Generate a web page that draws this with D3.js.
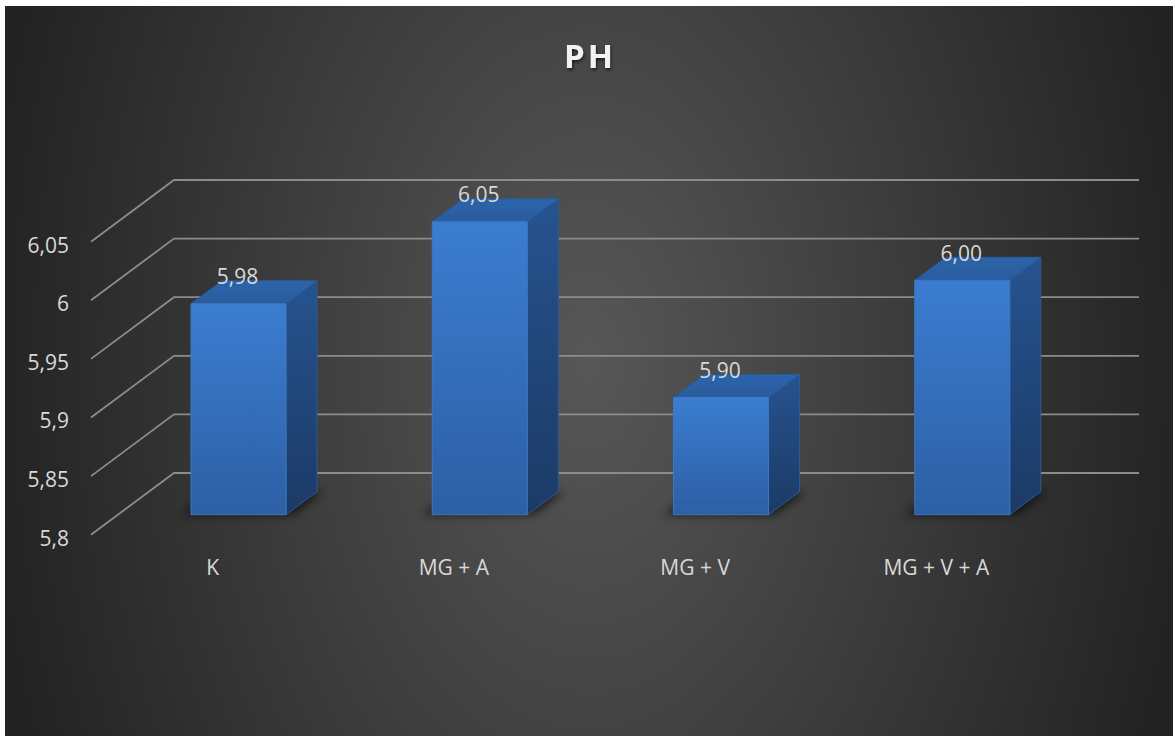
<!DOCTYPE html>
<html>
<head>
<meta charset="utf-8">
<script src="https://cdn.jsdelivr.net/npm/d3@7"></script>
<style>
  html, body { margin: 0; padding: 0; background: #fff; }
  svg { display: block; }
</style>
</head>
<body>
<svg id="viz_bar"></svg>
<script>
// data
var categories = ["K", "MG + A", "MG + V", "MG + V + A"];
var values = [5.98, 6.05, 5.90, 6.00];
var valueLabels = ["5,98", "6,05", "5,90", "6,00"];
var yTicks = [5.8, 5.85, 5.9, 5.95, 6, 6.05];
var yTickLabels = ["5,8", "5,85", "5,9", "5,95", "6", "6,05"];

var width = 1175, height = 738;
var depth = {dx: 83, dy: -61.7};   // front -> back wall offset
var barZ = [0.324, 0.697];          // bar front / back, as share of depth
var font = "'Open Sans', 'Noto Sans', sans-serif";

var svg = d3.select("#viz_bar")
    .attr("width", width)
    .attr("height", height);

var defs = svg.append("defs");

var bg = defs.append("radialGradient")
    .attr("id", "bg")
    .attr("gradientUnits", "userSpaceOnUse")
    .attr("cx", 589).attr("cy", 360).attr("r", 600)
    .attr("gradientTransform", "translate(589,360) scale(1,1.6) translate(-589,-360)");
bg.append("stop").attr("offset", 0).attr("stop-color", "#575757");
bg.append("stop").attr("offset", 1).attr("stop-color", "#232323");

function vGrad(id, top, bottom) {
    var g = defs.append("linearGradient").attr("id", id)
        .attr("x1", 0).attr("y1", 0).attr("x2", 0).attr("y2", 1);
    g.append("stop").attr("offset", 0).attr("stop-color", top);
    g.append("stop").attr("offset", 1).attr("stop-color", bottom);
}
vGrad("front", "#3b7dd1", "#2d5fa4");
vGrad("side", "#26538f", "#1c3a66");
vGrad("top", "#2c64aa", "#2a5c9c");

defs.append("filter").attr("id", "blur")
    .attr("x", "-50%").attr("y", "-50%").attr("width", "200%").attr("height", "200%")
    .append("feGaussianBlur").attr("stdDeviation", 5);

var ts = defs.append("filter").attr("id", "tshadow");
ts.append("feDropShadow").attr("dx", 1).attr("dy", 2).attr("stdDeviation", 1.5)
    .attr("flood-color", "#000").attr("flood-opacity", 0.6);

svg.append("rect")
    .attr("x", 5).attr("y", 6)
    .attr("width", 1168).attr("height", 730)
    .attr("fill", "url(#bg)");

// scales live on the front plane (z = 0)
var x = d3.scaleBand()
    .domain(categories)
    .range([91, 1056])
    .paddingInner(0);

var y = d3.scaleLinear()
    .domain([5.8, 6.05])
    .range([534.7, 241.7]);

var barW = x.bandwidth() * 0.394;

function pt(px, v, z) {
    return [px + z * depth.dx, y(v) + z * depth.dy];
}

// grid: diagonal on the side wall + horizontal on the back wall
var grid = svg.append("g")
    .attr("stroke", "#8c8c8c")
    .attr("stroke-width", 1.8)
    .attr("fill", "none");

grid.selectAll("path")
    .data(yTicks)
    .enter().append("path")
    .attr("d", function(d) {
        var a = pt(x.range()[0], d, 0),
            b = pt(x.range()[0], d, 1),
            c = pt(x.range()[1], d, 1);
        return "M" + a + "L" + b + "L" + c;
    });

svg.append("g")
    .attr("fill", "#d9d9d9")
    .attr("text-anchor", "end")
    .style("font", "21px " + font)
    .selectAll("text")
    .data(yTicks)
    .enter().append("text")
    .attr("x", 69)
    .attr("y", d => y(d) + 3.5)
    .attr("dy", "0.35em")
    .text((d, i) => yTickLabels[i]);

var rows = categories.map(function(c, i) {
    return {name: c, value: values[i], label: valueLabels[i]};
});

// floor shadows
svg.append("g")
    .attr("filter", "url(#blur)")
    .attr("fill", "#000")
    .attr("opacity", 0.65)
    .selectAll("path")
    .data(rows)
    .enter().append("path")
    .attr("d", function(d) {
        var cx = x(d.name) + x.bandwidth() / 2,
            l = cx - barW / 2 - 10, r = cx + barW / 2 + 6;
        var pts = [pt(l, 5.8, barZ[0]), pt(r, 5.8, barZ[0]),
                   pt(r, 5.8, barZ[1]), pt(l, 5.8, barZ[1])];
        return "M" + pts.join("L") + "Z";
    });

var bars = svg.append("g")
    .selectAll("g")
    .data(rows)
    .enter().append("g");

function face(d, which) {
    var cx = x(d.name) + x.bandwidth() / 2,
        l = cx - barW / 2, r = cx + barW / 2,
        z0 = barZ[0], z1 = barZ[1], pts;
    if(which == "front") {
        pts = [pt(l, d.value, z0), pt(r, d.value, z0), pt(r, 5.8, z0), pt(l, 5.8, z0)];
    }
    else if(which == "side") {
        pts = [pt(r, d.value, z0), pt(r, d.value, z1), pt(r, 5.8, z1), pt(r, 5.8, z0)];
    }
    else {
        pts = [pt(l, d.value, z0), pt(l, d.value, z1), pt(r, d.value, z1), pt(r, d.value, z0)];
    }
    return "M" + pts.join("L") + "Z";
}

["side", "top", "front"].forEach(function(f) {
    bars.append("path")
        .attr("d", d => face(d, f))
        .attr("fill", "url(#" + f + ")")
        .attr("stroke", f == "front" ? "#3a78c6" : "#2a5a98")
        .attr("stroke-width", 1)
        .attr("stroke-linejoin", "round");
});

// value labels sit just above the back top edge
svg.append("g")
    .attr("fill", "#d9d9d9")
    .attr("text-anchor", "middle")
    .style("font", "21px " + font)
    .selectAll("text")
    .data(rows)
    .enter().append("text")
    .attr("x", d => x(d.name) + x.bandwidth() / 2 + barZ[0] * depth.dx - 1)
    .attr("y", d => y(d.value) + barZ[1] * depth.dy - 4)
    .attr("dy", "0.35em")
    .text(d => d.label);

// category labels on the front floor edge
svg.append("g")
    .attr("fill", "#d9d9d9")
    .attr("text-anchor", "middle")
    .style("font", "21px " + font)
    .selectAll("text")
    .data(categories)
    .enter().append("text")
    .attr("x", d => x(d) + x.bandwidth() / 2 + 1)
    .attr("y", 568)
    .attr("dy", "0.35em")
    .text(d => d);

svg.append("text")
    .attr("x", 590)
    .attr("y", 68)
    .attr("text-anchor", "middle")
    .attr("fill", "#f2f2f2")
    .attr("filter", "url(#tshadow)")
    .style("font", "bold 33px " + font)
    .style("letter-spacing", "3px")
    .text("PH");
</script>
</body>
</html>
